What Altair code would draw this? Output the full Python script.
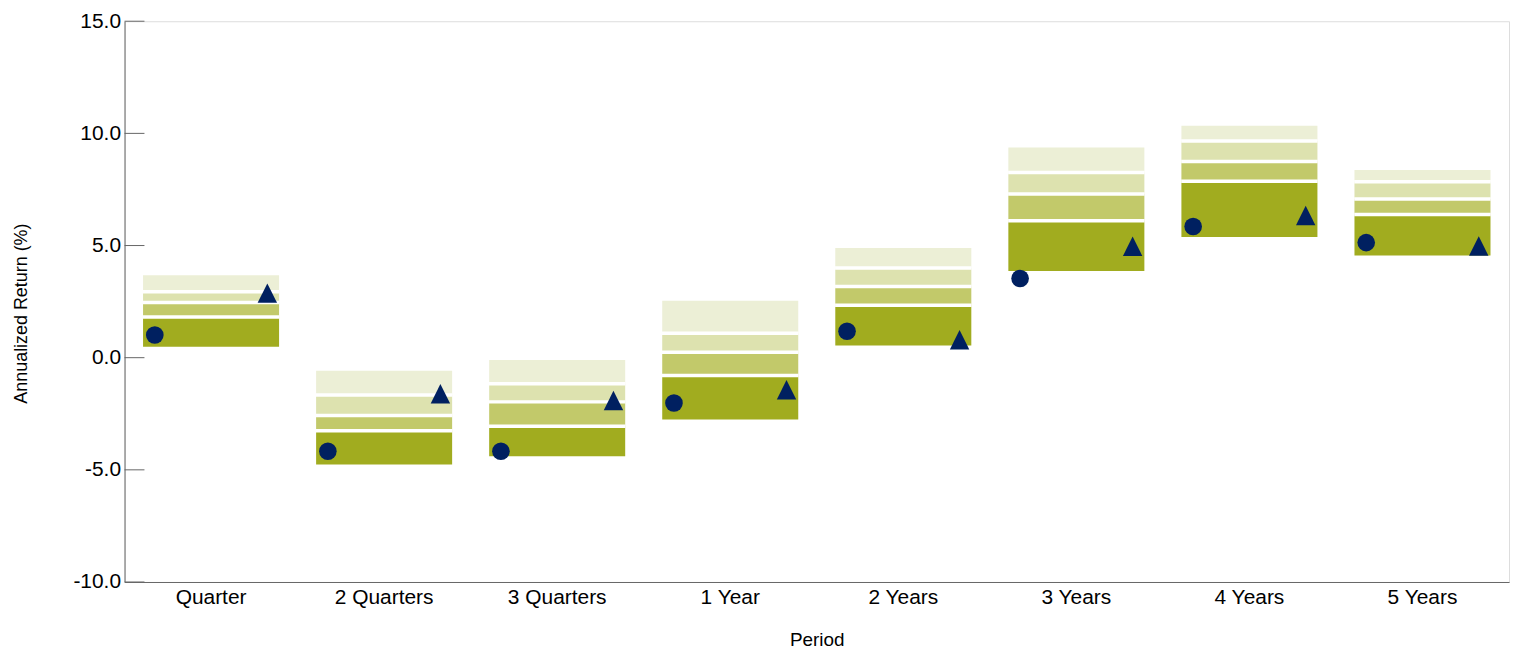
import altair as alt
import pandas as pd

periods = ["Quarter", "2 Quarters", "3 Quarters", "1 Year", "2 Years", "3 Years", "4 Years", "5 Years"]
# percentile boundaries (top of range down to bottom)
p05 = [3.68, -0.58, -0.10, 2.54, 4.89, 9.37, 10.34, 8.37]
p25 = [2.94, -1.66, -1.16, 1.09, 4.00, 8.26, 9.66, 7.84]
p50 = [2.46, -2.58, -1.97, 0.24, 3.17, 7.30, 8.75, 7.07]
p75 = [1.81, -3.26, -3.06, -0.79, 2.34, 6.11, 7.87, 6.38]
p95 = [0.49, -4.76, -4.39, -2.76, 0.54, 3.87, 5.38, 4.56]
circle_vals = [1.01, -4.17, -4.17, -2.02, 1.18, 3.53, 5.85, 5.13]
triangle_vals = [2.88, -1.61, -1.91, -1.43, 0.80, 4.97, 6.34, 4.98]
y_ticks = [-10, -5, 0, 5, 10, 15]

segments = ["5th to 25th", "25th to Median", "Median to 75th", "75th to 95th"]
seg_colors = ["#ECEFD6", "#DDE2AF", "#C2C96A", "#A1AC1F"]
bounds = [p05, p25, p50, p75, p95]

bar_rows = []
for i, p in enumerate(periods):
    for k in range(4):
        bar_rows.append({"period": p, "segment": segments[k],
                         "top": bounds[k][i], "bottom": bounds[k + 1][i]})
bars_df = pd.DataFrame(bar_rows)

edge_rows = []
for i, p in enumerate(periods):
    for b in (p25, p50, p75):
        edge_rows.append({"period": p, "value": b[i]})
edges_df = pd.DataFrame(edge_rows)

pts_df = pd.DataFrame({"period": periods, "circle": circle_vals, "triangle": triangle_vals})
ticks_df = pd.DataFrame({"v": y_ticks})

LABEL_FONT = "Liberation Sans"
TITLE_FONT = "Liberation Sans"
AXIS_COLOR = "#666666"

x_enc = alt.X(
    "period:N", sort=periods,
    scale=alt.Scale(domain=periods, paddingInner=0.214, paddingOuter=0.107),
    axis=alt.Axis(title="Period", ticks=False, tickSize=0, labelAngle=0,
                  labelFont=LABEL_FONT, labelFontSize=21, labelColor="#000000",
                  labelBaseline="alphabetic", labelPadding=22,
                  titleFont=TITLE_FONT, titleFontSize=19, titleFontWeight="normal",
                  titleColor="#000000", titleBaseline="alphabetic", titleY=64,
                  domainColor=AXIS_COLOR),
)
y_scale = alt.Scale(domain=[-10, 15], nice=False, zero=False)

bars = alt.Chart(bars_df).mark_bar().encode(
    x=x_enc,
    y=alt.Y("top:Q", scale=y_scale,
            axis=alt.Axis(title="Annualized Return (%)", values=y_ticks,
                          labelExpr="datum.value < 0 ? '-' + format(-datum.value, '.1f') : format(datum.value, '.1f')",
                          grid=False, ticks=False, tickSize=0, labelPadding=4,
                          labelFont=LABEL_FONT, labelFontSize=21, labelColor="#000000",
                          titleFont=TITLE_FONT, titleFontSize=18, titleFontWeight="normal",
                          titleColor="#000000", titleX=-103, titleY=293,
                          titleBaseline="middle", domainColor=AXIS_COLOR)),
    y2="bottom:Q",
    color=alt.Color("segment:N", scale=alt.Scale(domain=segments, range=seg_colors), legend=None),
)

gaps = alt.Chart(edges_df).mark_tick(color="white", thickness=3.5, size=137, opacity=1).encode(
    x=alt.X("period:N", sort=periods),
    y=alt.Y("value:Q", scale=y_scale),
)

inner_ticks = alt.Chart(ticks_df).mark_rule(color=AXIS_COLOR, strokeWidth=1).encode(
    y=alt.Y("v:Q", scale=y_scale),
    x=alt.value(0),
    x2=alt.value(20),
)

circles = alt.Chart(pts_df).mark_point(shape="circle", filled=True, size=314, color="#002060",
                                       opacity=1, xOffset=-56.5).encode(
    x=alt.X("period:N", sort=periods),
    y=alt.Y("circle:Q", scale=y_scale),
)

triangles = alt.Chart(pts_df).mark_point(shape="M-1,1L0,-1L1,1Z", filled=True, size=380,
                                         color="#002060", opacity=1, xOffset=56.5).encode(
    x=alt.X("period:N", sort=periods),
    y=alt.Y("triangle:Q", scale=y_scale),
)

chart = alt.layer(bars, gaps, inner_ticks, circles, triangles).properties(
    width=1390, height=563,
    autosize=alt.AutoSizeParams(type="none"),
    padding={"left": 117, "top": 12, "right": 2, "bottom": 67},
).configure_view(stroke=AXIS_COLOR, strokeWidth=1).configure(background="white")

chart.save("out.html", embed_options={"renderer": "svg", "actions": False})
